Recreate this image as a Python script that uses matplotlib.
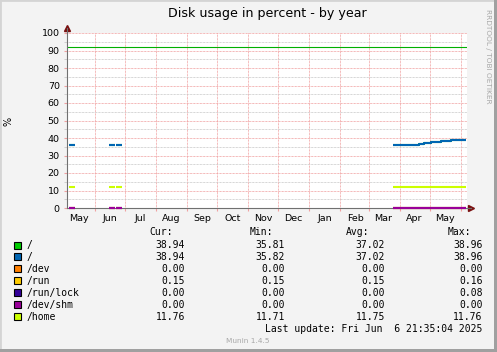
import matplotlib
matplotlib.use("Agg")
import matplotlib.pyplot as plt
import matplotlib.dates as mdates
from matplotlib.patches import Rectangle
import numpy as np
import pandas as pd

W, H = 497, 352

# series (step values, NaN = no data)
dates = ["2024-05-06", "2024-05-11", "2024-05-12",
         "2024-06-15", "2024-06-20", "2024-06-21",
         "2024-06-22", "2024-06-27", "2024-06-28",
         "2025-03-25", "2025-04-20", "2025-04-25", "2025-05-02",
         "2025-05-12", "2025-05-22", "2025-05-30", "2025-06-06"]
nan = np.nan
root = [36.0, 36.0, nan, 36.0, 36.0, nan, 36.0, 36.0, nan,
        36.0, 36.7, 37.3, 37.9, 38.3, 38.7, 38.94, 38.94]
dev = [0.0, 0.0, nan, 0.0, 0.0, nan, 0.0, 0.0, nan,
       0.0, 0.0, 0.0, 0.0, 0.0, 0.0, 0.0, 0.0]
run = [0.15, 0.15, nan, 0.15, 0.15, nan, 0.15, 0.15, nan,
       0.15, 0.15, 0.15, 0.15, 0.15, 0.15, 0.15, 0.15]
home = [11.75, 11.75, nan, 11.75, 11.75, nan, 11.75, 11.75, nan,
        11.75, 11.75, 11.75, 11.75, 11.75, 11.75, 11.75, 11.75]
hrule = 92

labels = ["/", "/", "/dev", "/run", "/run/lock", "/dev/shm", "/home"]
colors = ["#00CC00", "#0066B3", "#FF8000", "#FFCC00", "#330099", "#990099", "#CCFF00"]
series = [root, root, dev, run, dev, dev, home]
cur = ["38.94", "38.94", "0.00", "0.15", "0.00", "0.00", "11.76"]
mins = ["35.81", "35.82", "0.00", "0.15", "0.00", "0.00", "11.71"]
avgs = ["37.02", "37.02", "0.00", "0.15", "0.00", "0.00", "11.75"]
maxs = ["38.96", "38.96", "0.00", "0.16", "0.08", "0.00", "11.76"]
months = ["May", "Jun", "Jul", "Aug", "Sep", "Oct", "Nov", "Dec", "Jan", "Feb", "Mar", "Apr", "May"]

x = mdates.date2num(pd.to_datetime(dates))
month_starts = mdates.date2num(pd.date_range("2024-06-01", "2025-06-01", freq="MS"))
label_pos = mdates.date2num(pd.date_range("2024-05-01", "2025-05-01", freq="MS") + pd.Timedelta(days=15))
x0 = mdates.date2num(pd.Timestamp("2024-05-03 21:35"))
x1 = mdates.date2num(pd.Timestamp("2025-06-06 21:35"))


def fx(px):
    return px / W


def fy(py):
    return 1 - py / H


fig = plt.figure(figsize=(W / 100, H / 100), dpi=100, facecolor="#F3F3F3")

# 3d-ish border
fig.patches.append(Rectangle((0, 0), 1, 1, transform=fig.transFigure, fill=False,
                             edgecolor="#D4D4D4", lw=2))
fig.patches.append(Rectangle((fx(494), 0), fx(3), 1, transform=fig.transFigure,
                             color="#A0A0A0", lw=0))
fig.patches.append(Rectangle((0, 0), 1, 3 / H, transform=fig.transFigure,
                             color="#A0A0A0", lw=0))

L, R, T, B = 66.7, 466.7, 33, 208
ax = fig.add_axes([fx(L), fy(B), fx(R - L), (B - T) / H])
ax.set_facecolor("white")
ax.set_xlim(x0, x1)
ax.set_ylim(0, 100)

dot = (0, (0.72, 0.72))
ax.set_yticks(np.arange(0, 101, 10))
ax.set_yticks(np.arange(5, 100, 10), minor=True)
ax.yaxis.grid(True, which="major", color="#F0A0A0", lw=0.72, ls=dot)
ax.yaxis.grid(True, which="minor", color="#C8C8C8", lw=0.72, ls=dot)
ax.set_xticks(month_starts)
ax.set_xticklabels([])
ax.set_xticks(label_pos, minor=True)
ax.set_xticklabels(months, minor=True)
ax.xaxis.grid(True, which="major", color="#F0A0A0", lw=0.72, ls=dot)
ax.tick_params(axis="y", which="major", length=2, color="#F0A0A0", pad=3, labelsize=6.8)
ax.tick_params(axis="y", which="minor", length=2, color="#C8C8C8")
ax.tick_params(axis="x", which="both", length=0, pad=4, labelsize=6.8)
ax.tick_params(axis="x", which="major", length=2, color="#F0A0A0")
for s in ["top", "right"]:
    ax.spines[s].set_visible(False)
for s in ["left", "bottom"]:
    ax.spines[s].set_color("#707070")
    ax.spines[s].set_linewidth(0.8)

ax.axhline(hrule, color="#00B000", lw=0.8, zorder=2)
for vals, c in zip(series, colors):
    ax.step(x, vals, where="post", color=c, lw=1.5, zorder=3, clip_on=False,
            solid_capstyle="butt")

# arrows
ax.plot([0], [1.03], marker="^", ms=4, color="#7A1010", transform=ax.transAxes, clip_on=False)
ax.plot([1.01], [0], marker=">", ms=4, color="#7A1010", transform=ax.transAxes, clip_on=False)
ax.plot([0, 0], [1, 1.03], color="#707070", lw=0.8, transform=ax.transAxes, clip_on=False)
ax.plot([1, 1.01], [0, 0], color="#707070", lw=0.8, transform=ax.transAxes, clip_on=False)

fig.text(fx(267), fy(13), "Disk usage in percent - by year", ha="center", va="center",
         fontsize=9.1, color="#000000")
fig.text(fx(9), fy(121), "%", rotation=90, ha="center", va="center", fontsize=7)
fig.text(fx(488), fy(56), "RRDTOOL / TOBI OETIKER", rotation=270, ha="center", va="center",
         fontsize=5.3, color="#A8A8A8")

mono = "DejaVu Sans Mono"
fs = 7
fig.text(fx(149.3), fy(232.3), "Cur:", ha="left", va="center", family=mono, fontsize=fs)
fig.text(fx(250), fy(232.3), "Min:", ha="left", va="center", family=mono, fontsize=fs)
fig.text(fx(345.7), fy(232.3), "Avg:", ha="left", va="center", family=mono, fontsize=fs)
fig.text(fx(447.7), fy(232.3), "Max:", ha="left", va="center", family=mono, fontsize=fs)
for i, lab in enumerate(labels):
    yc = 245 + 11.95 * i
    fig.patches.append(Rectangle((fx(13.5), fy(yc + 3.5)), fx(7), 7 / H, transform=fig.transFigure,
                                 facecolor=colors[i], edgecolor="black", lw=0.8))
    fig.text(fx(27), fy(yc), lab, ha="left", va="center", family=mono, fontsize=fs)
    fig.text(fx(185), fy(yc), cur[i], ha="right", va="center", family=mono, fontsize=fs)
    fig.text(fx(285), fy(yc), mins[i], ha="right", va="center", family=mono, fontsize=fs)
    fig.text(fx(385), fy(yc), avgs[i], ha="right", va="center", family=mono, fontsize=fs)
    fig.text(fx(482.7), fy(yc), maxs[i], ha="right", va="center", family=mono, fontsize=fs)

fig.text(fx(482.7), fy(328.5), "Last update: Fri Jun  6 21:35:04 2025", ha="right", va="center",
         family=mono, fontsize=fs)
fig.text(fx(248), fy(341), "Munin 1.4.5", ha="center", va="center", fontsize=5.3, color="#A8A8A8")

fig.savefig("out.png", dpi=100, facecolor=fig.get_facecolor())
